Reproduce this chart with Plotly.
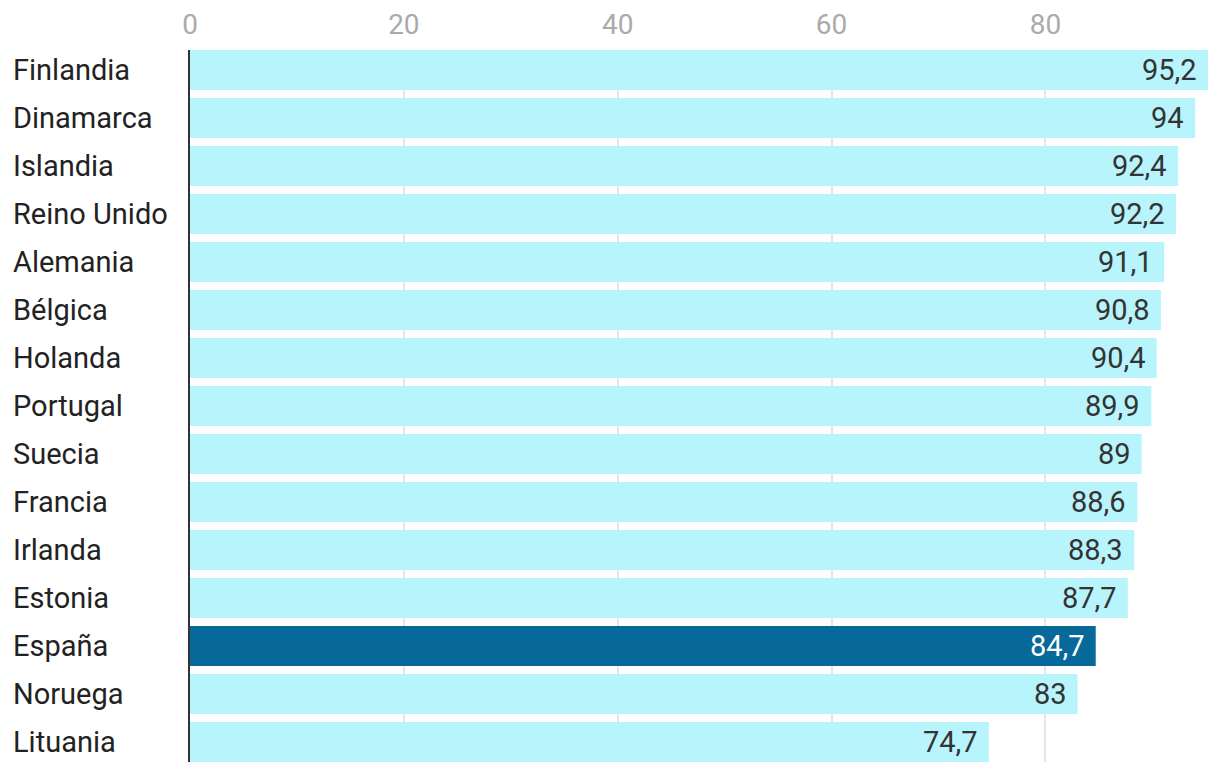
import plotly.graph_objects as go

countries = ["Finlandia", "Dinamarca", "Islandia", "Reino Unido", "Alemania", "Bélgica",
             "Holanda", "Portugal", "Suecia", "Francia", "Irlanda", "Estonia", "España",
             "Noruega", "Lituania"]
values = [95.2, 94, 92.4, 92.2, 91.1, 90.8, 90.4, 89.9, 89, 88.6, 88.3, 87.7, 84.7, 83, 74.7]
labels = ["95,2", "94", "92,4", "92,2", "91,1", "90,8", "90,4", "89,9", "89", "88,6",
          "88,3", "87,7", "84,7", "83", "74,7"]
highlight = "España"

LIGHT = "#b8f4fc"
DARK = "#066999"
FONT = "Roboto"
FS = 29

colors = [DARK if c == highlight else LIGHT for c in countries]
text_colors = ["#ffffff" if c == highlight else "#333333" for c in countries]

fig = go.Figure(go.Bar(
    x=values, y=countries, orientation="h",
    marker=dict(color=colors, line=dict(width=0)),
    hoverinfo="skip",
))

n = len(countries)
bar_frac = 40 / 48
half = bar_frac / 2

# page has an 8px body margin; compensate
W, H = 1212, 764
ml, mr, mt, mb = 182, 12, 42, 10
plot_w = W - ml - mr

annotations = []
for c in countries:
    annotations.append(dict(
        x=(3 - ml) / plot_w, xref="paper", y=c, yref="y",
        text=c, showarrow=False, xanchor="left", yanchor="middle",
        font=dict(family=FONT, size=FS, color="#222222"),
    ))
for c, v, lab, tc in zip(countries, values, labels, text_colors):
    annotations.append(dict(
        x=v, xref="x", y=c, yref="y", xshift=-9,
        text=lab, showarrow=False, xanchor="right", yanchor="middle",
        font=dict(family=FONT, size=FS, color=tc),
    ))

fig.update_layout(
    width=W, height=H,
    margin=dict(l=ml, r=mr, t=mt, b=mb, pad=0, autoexpand=False),
    paper_bgcolor="white", plot_bgcolor="white",
    bargap=1 - bar_frac,
    showlegend=False,
    annotations=annotations,
    xaxis=dict(
        side="top", range=[0, 95.2], tickvals=[0, 20, 40, 60, 80],
        ticktext=["0", "20", "40", "60", "80"],
        showgrid=True, gridcolor="#e6e6e6", gridwidth=2,
        zeroline=False, showline=False, automargin=False,
        ticks="outside", ticklen=4, tickcolor="rgba(0,0,0,0)",
        tickfont=dict(family=FONT, size=28, color="#aaaaaa"),
        fixedrange=True,
    ),
    yaxis=dict(
        range=[n - 1 + half, -half], automargin=False,
        showticklabels=False, showgrid=False, zeroline=False,
        showline=True, linecolor="#333333", linewidth=2,
        fixedrange=True,
    ),
    font=dict(family=FONT),
)

fig.write_html("out.html")
